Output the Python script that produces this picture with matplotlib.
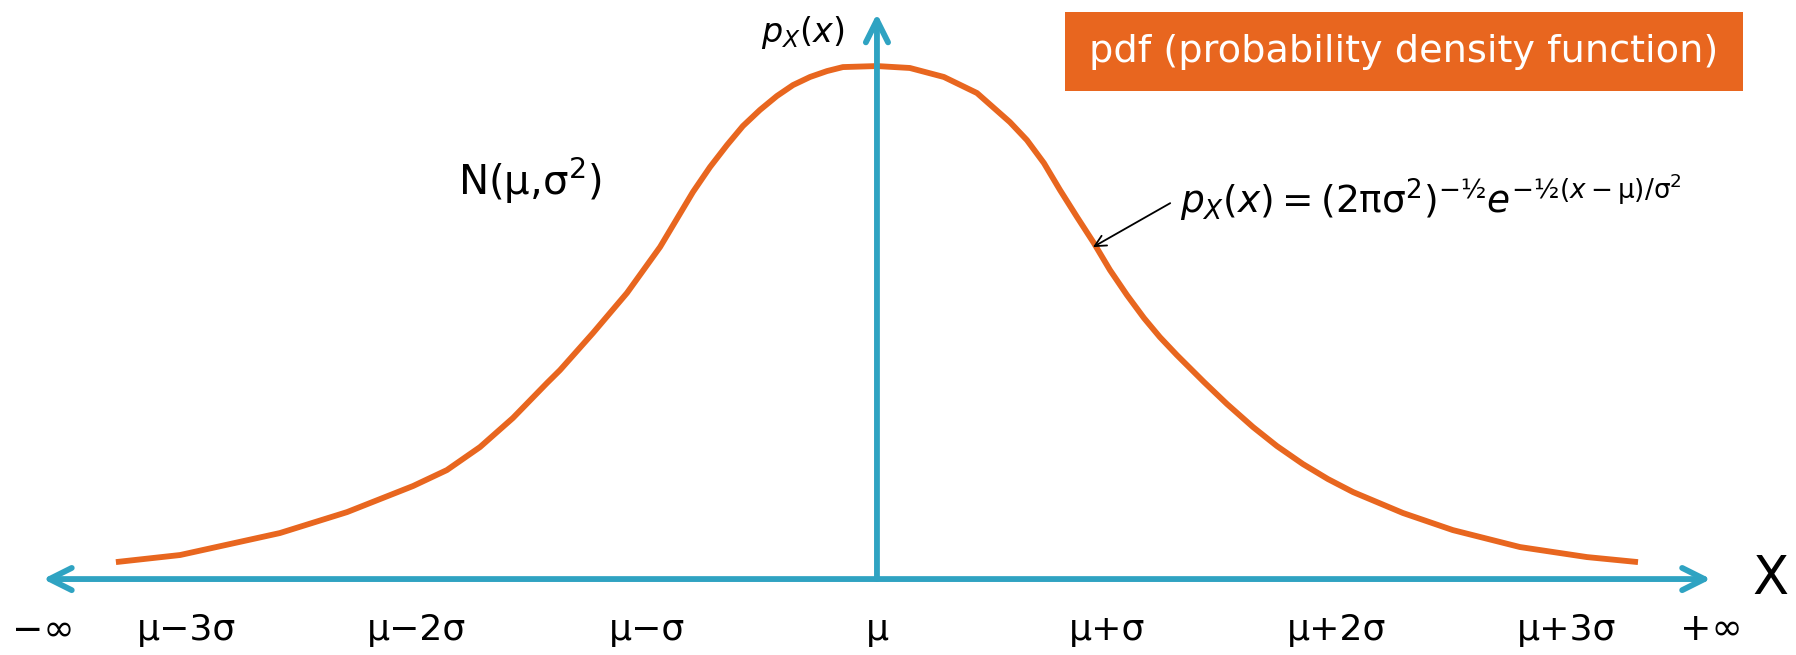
import matplotlib
matplotlib.use("Agg")
import matplotlib.pyplot as plt
from matplotlib.patches import FancyArrowPatch, Rectangle

plt.rcParams.update({
    "font.family": ["DejaVu Sans"],
    "mathtext.fontset": "dejavusans",
})

CURVE_C = "#e8661f"   # orange bell curve and title box
AXIS_C = "#2fa3c2"    # teal axes

# bell curve: x in units of sigma from mu, y = density
curve_x = [-3.309, -3.030, -2.596, -2.304, -2.017, -1.870, -1.726, -1.583,
           -1.435, -1.378, -1.235, -1.087, -0.943, -0.800, -0.726, -0.652,
           -0.583, -0.509, -0.435, -0.365, -0.291, -0.217, -0.148, 0.0,
           0.143, 0.291, 0.435, 0.578, 0.652, 0.726, 0.796, 0.870, 0.943,
           1.013, 1.087, 1.161, 1.230, 1.304, 1.422, 1.522, 1.635, 1.739,
           1.852, 1.961, 2.070, 2.287, 2.504, 2.796, 3.087, 3.309]
curve_y = [0.0132, 0.0187, 0.0358, 0.0521, 0.0724, 0.0848, 0.1027, 0.1253,
           0.1525, 0.1626, 0.1914, 0.2226, 0.2584, 0.3012, 0.3206, 0.3377,
           0.3525, 0.3650, 0.3759, 0.3844, 0.3907, 0.3953, 0.3984, 0.3992,
           0.3977, 0.3907, 0.3782, 0.3556, 0.3416, 0.3237, 0.3027, 0.2817,
           0.2615, 0.2405, 0.2210, 0.2031, 0.1883, 0.1743, 0.1533, 0.1362,
           0.1183, 0.1035, 0.0895, 0.0778, 0.0677, 0.0514, 0.0381, 0.0249,
           0.0171, 0.0132]

sigma_steps = [-3, -2, -1, 0, 1, 2, 3]
tick_labels = ["μ−3σ", "μ−2σ", "μ−σ", "μ", "μ+σ", "μ+2σ", "μ+3σ"]

x_end = 3.626      # where the x axis arrows stop
y_top = 0.440      # tip of the vertical arrow

fig = plt.figure(figsize=(17.96, 6.55), dpi=100)
ax = fig.add_axes([0, 0, 1, 1])
ax.set_xlim(-3.813, 3.996)
ax.set_ylim(-0.0591, 0.4506)
ax.axis("off")

ax.plot(curve_x, curve_y, color=CURVE_C, lw=4.2,
        solid_capstyle="butt", solid_joinstyle="round", zorder=2)

# axes drawn as arrows
ax.add_patch(FancyArrowPatch((-x_end, 0), (x_end, 0),
                             arrowstyle="<->,head_length=16,head_width=8",
                             mutation_scale=1, lw=4.2, color=AXIS_C,
                             shrinkA=0, shrinkB=0, capstyle="round",
                             joinstyle="round", zorder=3))
ax.add_patch(FancyArrowPatch((0, 0), (0, y_top),
                             arrowstyle="->,head_length=16,head_width=8",
                             mutation_scale=1, lw=4.2, color=AXIS_C,
                             shrinkA=0, shrinkB=0, capstyle="round",
                             joinstyle="round", zorder=3))

lab_y = -0.040
for s, lab in zip(sigma_steps, tick_labels):
    ax.text(s, lab_y, lab, ha="center", va="center", fontsize=26)
ax.text(-x_end, lab_y, "−∞", ha="center", va="center", fontsize=27)
ax.text(x_end, lab_y, "+∞", ha="center", va="center", fontsize=27)
ax.text(3.883, 0.0, "X", ha="center", va="center", fontsize=38)

ax.text(-0.322, 0.4256, r"$p_X(x)$", ha="center", va="center", fontsize=24)
ax.text(-1.51, 0.310, "N(μ,σ$^2$)", ha="center", va="center", fontsize=29)

# title box
ax.add_patch(Rectangle((0.817, 0.3797), 2.948, 0.0615, color=CURVE_C, lw=0))
ax.text(2.291, 0.4105, "pdf (probability density function)", color="white",
        ha="center", va="center", fontsize=27.5)

# formula with arrow onto the curve
ax.text(1.317, 0.297,
        r"$p_X\left(x\right)=\left(2\mathrm{\pi}\mathrm{\sigma}^2\right)^{-½}"
        r"e^{-½(x-\mathrm{\mu})/\mathrm{\sigma}^2}$",
        ha="left", va="center", fontsize=27)
ax.annotate("", xy=(0.939, 0.2583), xytext=(1.275, 0.2925),
            arrowprops=dict(arrowstyle="->,head_length=0.8,head_width=0.4",
                            color="black", lw=1.3, shrinkA=0, shrinkB=0))

fig.savefig("out.png", dpi=100)
